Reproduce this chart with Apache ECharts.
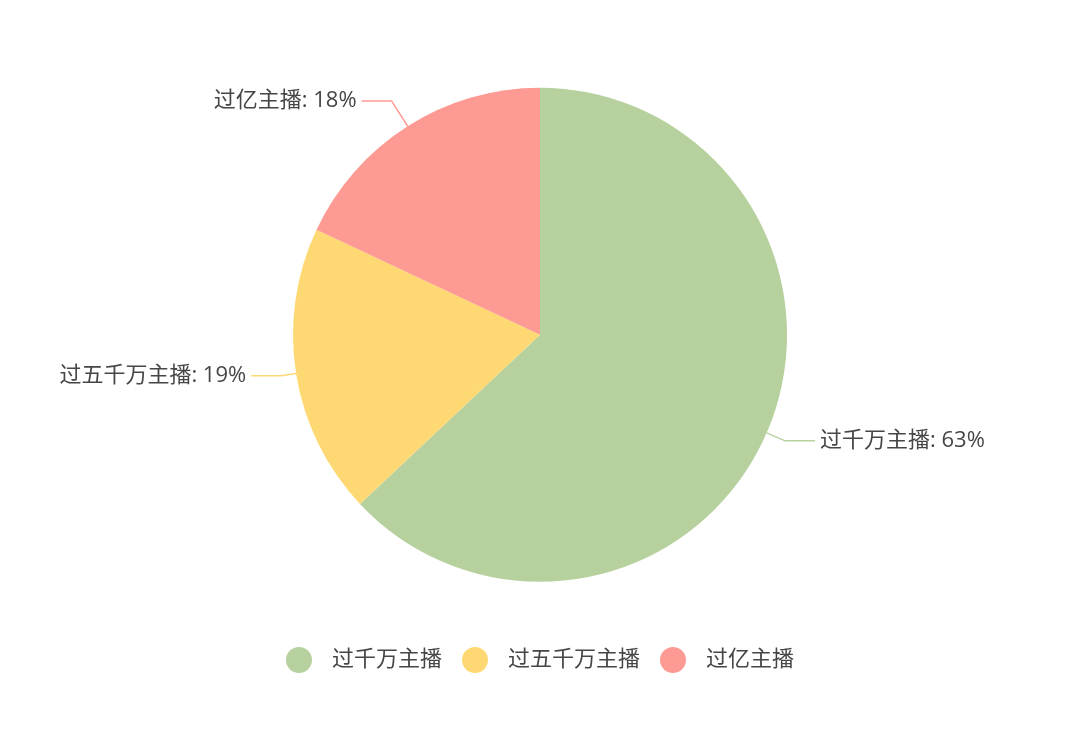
<!DOCTYPE html>
<html><head><meta charset="utf-8">
<script src="https://cdn.jsdelivr.net/npm/echarts@6/dist/echarts.min.js"></script>
<style>html,body{margin:0;padding:0;background:#fff}#c{width:1080px;height:744px}</style>
</head><body><div id="c"></div>
<script>
const categories = ['过千万主播', '过五千万主播', '过亿主播'];
const values = [63, 19, 18];
const colors = ['#b6d19d', '#fed872', '#fe9a94'];
const lineLengths = [20, 15, 30];
const chart = echarts.init(document.getElementById('c'));
const ff = '"Open Sans", "Noto Sans CJK SC", sans-serif';
chart.setOption({
  color: colors,
  textStyle: { fontFamily: ff },
  legend: {
    bottom: 66,
    left: 'center',
    icon: 'circle',
    itemWidth: 26,
    itemHeight: 26,
    itemGap: 20,
    textStyle: { fontSize: 22, color: '#464646', fontFamily: ff, padding: [0, 0, 0, 15] },
    data: categories
  },
  series: [{
    type: 'pie',
    radius: '66.4%',
    center: ['50%', '45%'],
    startAngle: 90,
    data: categories.map((c, i) => ({ name: c, value: values[i], labelLine: { length: lineLengths[i] } })),
    label: { formatter: '{b}: {d}%', fontSize: 22, color: '#464646', fontFamily: ff },
    labelLine: { length: 20, length2: 30, lineStyle: { width: 1.5 } }
  }]
});
</script></body></html>
